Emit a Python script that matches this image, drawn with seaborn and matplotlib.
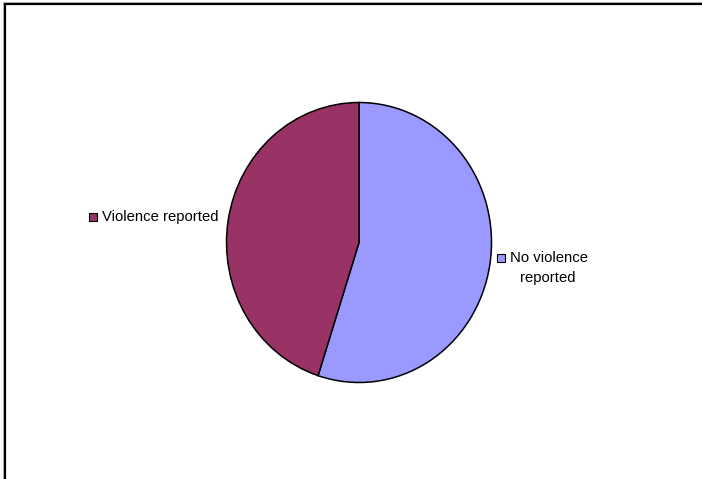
import matplotlib
matplotlib.use("Agg")
import matplotlib.pyplot as plt
from matplotlib.patches import Rectangle
from matplotlib.lines import Line2D
import seaborn as sns

categories = ["No violence reported", "Violence reported"]
values = [55, 45]
colors = ["#9999FF", "#993366"]

sns.set_theme(style="white")
plt.rcParams["font.family"] = ["Liberation Sans", "DejaVu Sans"]

W, H = 702, 479
fig = plt.figure(figsize=(W / 100, H / 100), dpi=100)
fig.patch.set_facecolor("white")


def fx(px):
    return px / W


def fy(py):
    return 1 - py / H


# pie area: centre (359, 242.5), slightly taller than wide
cx, cy, rx, ry = 359, 242.5, 132.5, 140
ax = fig.add_axes([fx(cx - rx), fy(cy + ry), 2 * rx / W, 2 * ry / H])
ax.pie(values, colors=colors, startangle=90, counterclock=False,
       wedgeprops=dict(edgecolor="black", linewidth=1.1))
ax.set_xlim(-1.0, 1.0)
ax.set_ylim(-1.0, 1.0)
ax.set_aspect("auto")
ax.axis("off")

# chart frame (top and left edges with soft shadow)
for off, col, lw in [(1.5, "#b0b0b0", 1.2), (0, "black", 1.6)]:
    fig.add_artist(Line2D([fx(5 - off), fx(W + 5)], [fy(4 - off), fy(4 - off)],
                          color=col, lw=lw, transform=fig.transFigure))
    fig.add_artist(Line2D([fx(5 - off), fx(5 - off)], [fy(4 - off), fy(H + 5)],
                          color=col, lw=lw, transform=fig.transFigure))

# legend-style labels beside each slice
fs = 10.7


def key(px, py, color):
    s = 7.5
    fig.add_artist(Rectangle((fx(px - s / 2), fy(py + s / 2)), s / W, s / H,
                             facecolor=color, edgecolor="black", lw=0.8,
                             transform=fig.transFigure))


key(93, 217, colors[1])
fig.text(fx(102), fy(217), "Violence reported", fontsize=fs,
         ha="left", va="center", color="black")

key(501, 258, colors[0])
fig.text(fx(510), fy(258), "No violence", fontsize=fs,
         ha="left", va="center", color="black")
fig.text(fx(548), fy(278), "reported", fontsize=fs,
         ha="center", va="center", color="black")

fig.savefig("out.png", dpi=100, facecolor="white")
